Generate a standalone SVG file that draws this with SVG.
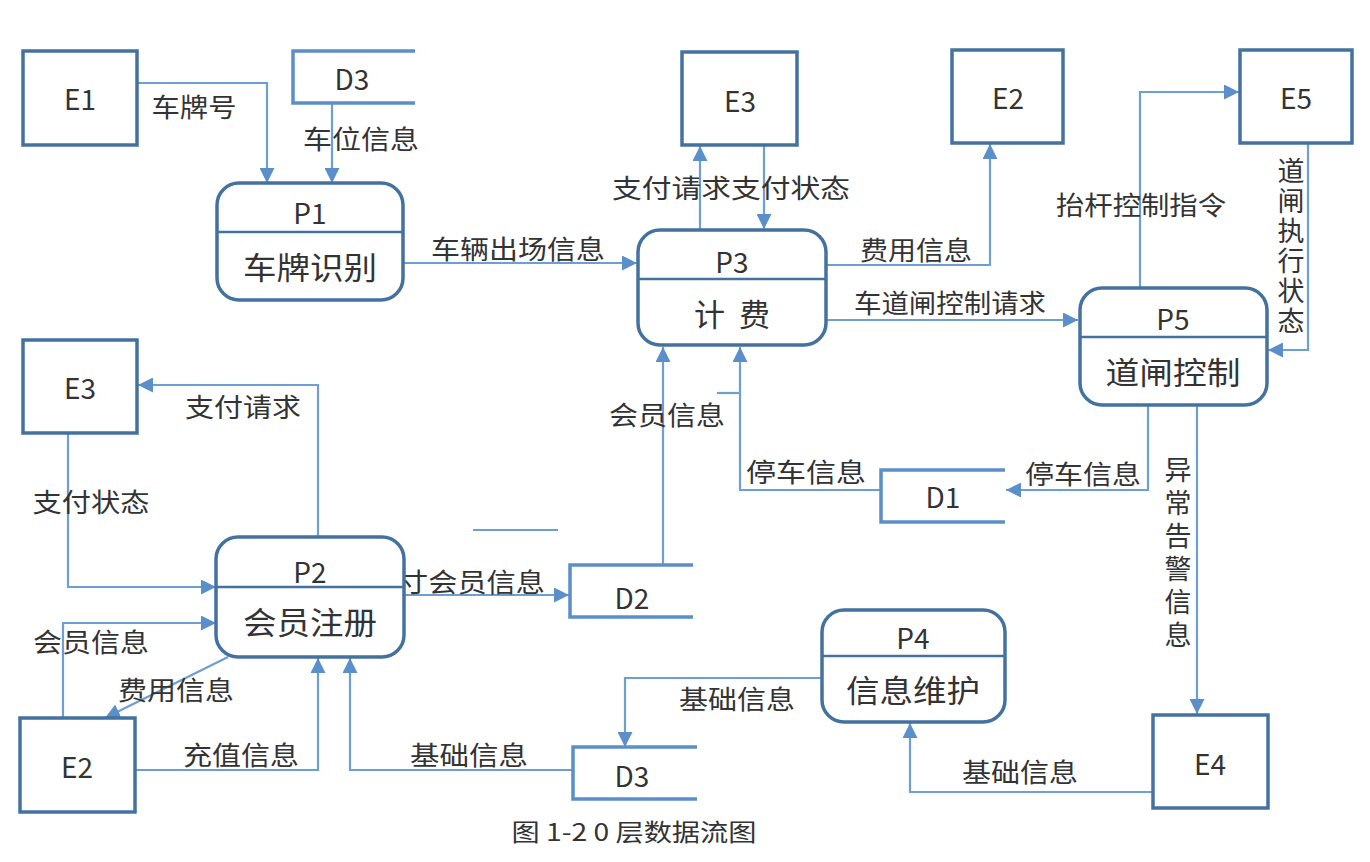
<svg xmlns="http://www.w3.org/2000/svg" width="1370" height="862" viewBox="0 0 1370 862">
<style>
.ent{fill:#fff;stroke:#44729f;stroke-width:3.5}
.proc{fill:#fff;stroke:#44729f;stroke-width:3.5}
.div{stroke:#44729f;stroke-width:2.5}
.store{fill:none;stroke:#5b8fc9;stroke-width:3.5}
.con{fill:none;stroke:#6d9fd4;stroke-width:2.2}
.t{font-family:"Noto Sans CJK SC","Liberation Sans",sans-serif;fill:#333;text-anchor:middle;dominant-baseline:central}
.nt{font-size:28px}
.pt{font-size:31px}
.lt{font-size:26px}
.vt{font-size:27px;writing-mode:vertical-rl;text-orientation:upright}
.cap{font-size:24px}
</style>
<defs>
<marker id="a" viewBox="0 0 10 10" refX="10" refY="5" markerWidth="15" markerHeight="15" markerUnits="userSpaceOnUse" orient="auto">
<path d="M0,0 L10,5 L0,10 z" fill="#5b8fc9"/>
</marker>
</defs>
<rect width="1370" height="862" fill="#fff"/>

<g id="connectors">
<path class="con" d="M137,83 H267 V183" marker-end="url(#a)"/>
<path class="con" d="M332,103 V183" marker-end="url(#a)"/>
<path class="con" d="M403,263 H637" marker-end="url(#a)"/>
<path class="con" d="M700,230 V146" marker-end="url(#a)"/>
<path class="con" d="M764,145 V229" marker-end="url(#a)"/>
<path class="con" d="M826,265 H990 V144" marker-end="url(#a)"/>
<path class="con" d="M826,320 H1078" marker-end="url(#a)"/>
<path class="con" d="M1140,288 V92 H1239" marker-end="url(#a)"/>
<path class="con" d="M1308,143 V350 H1268" marker-end="url(#a)"/>
<path class="con" d="M1148,405 V490 H1006" marker-end="url(#a)"/>
<path class="con" d="M881,490 H740 V347" marker-end="url(#a)"/>
<path class="con" d="M663,565 V347" marker-end="url(#a)"/>
<path class="con" d="M404,595 H569" marker-end="url(#a)"/>
<path class="con" d="M318,537 V385 H138" marker-end="url(#a)"/>
<path class="con" d="M68,433 V587 H216" marker-end="url(#a)"/>
<path class="con" d="M63,718 V623 H216" marker-end="url(#a)"/>
<path class="con" d="M228,657 L105,718" marker-end="url(#a)"/>
<path class="con" d="M135,770 H318 V658" marker-end="url(#a)"/>
<path class="con" d="M573,770 H350 V658" marker-end="url(#a)"/>
<path class="con" d="M822,678 H625 V747" marker-end="url(#a)"/>
<path class="con" d="M1153,792 H910 V723" marker-end="url(#a)"/>
<path class="con" d="M1197,405 V714" marker-end="url(#a)"/>
<path class="con" d="M473,530 H558"/>
<path class="con" d="M717,393 H740"/>
</g>

<g id="labels">
<text class="t lt" x="194" y="105" textLength="85" lengthAdjust="spacingAndGlyphs">车牌号</text>
<text class="t lt" x="361" y="137" textLength="116" lengthAdjust="spacingAndGlyphs">车位信息</text>
<text class="t lt" x="518" y="247" textLength="174" lengthAdjust="spacingAndGlyphs">车辆出场信息</text>
<text class="t lt" x="731" y="186" textLength="238" lengthAdjust="spacingAndGlyphs">支付请求支付状态</text>
<text class="t lt" x="916" y="248" textLength="112" lengthAdjust="spacingAndGlyphs">费用信息</text>
<text class="t lt" x="950" y="301" textLength="192" lengthAdjust="spacingAndGlyphs">车道闸控制请求</text>
<text class="t lt" x="1141" y="203" textLength="170" lengthAdjust="spacingAndGlyphs">抬杆控制指令</text>
<text class="t vt" x="1291" y="247" letter-spacing="3">道闸执行状态</text>
<text class="t lt" x="1083" y="472" textLength="116" lengthAdjust="spacingAndGlyphs">停车信息</text>
<text class="t lt" x="806" y="470" textLength="120" lengthAdjust="spacingAndGlyphs">停车信息</text>
<text class="t lt" x="667" y="413" textLength="116" lengthAdjust="spacingAndGlyphs">会员信息</text>
<text class="t vt" x="1178" y="555" letter-spacing="6">异常告警信息</text>
<text class="t lt" x="243" y="405" textLength="116" lengthAdjust="spacingAndGlyphs">支付请求</text>
<text class="t lt" x="91" y="500" textLength="117" lengthAdjust="spacingAndGlyphs">支付状态</text>
<text class="t lt" x="472" y="580" textLength="146" lengthAdjust="spacingAndGlyphs">寸会员信息</text>
<text class="t lt" x="91" y="640" textLength="116" lengthAdjust="spacingAndGlyphs">会员信息</text>
<text class="t lt" x="176" y="688" textLength="116" lengthAdjust="spacingAndGlyphs">费用信息</text>
<text class="t lt" x="241" y="753" textLength="116" lengthAdjust="spacingAndGlyphs">充值信息</text>
<text class="t lt" x="469" y="753" textLength="118" lengthAdjust="spacingAndGlyphs">基础信息</text>
<text class="t lt" x="737" y="697" textLength="116" lengthAdjust="spacingAndGlyphs">基础信息</text>
<text class="t lt" x="1020" y="770" textLength="116" lengthAdjust="spacingAndGlyphs">基础信息</text>
</g>

<g id="E1"><rect class="ent" x="23" y="51" width="114" height="94"/><text class="t nt" x="80" y="98">E1</text></g>
<g id="D3top"><path class="store" d="M415,51 H293 V103 H415"/><text class="t nt" x="352" y="78">D3</text></g>
<g id="P1"><rect class="proc" x="217" y="183" width="186" height="117" rx="22"/><line class="div" x1="217" y1="232" x2="403" y2="232"/><text class="t nt" x="310" y="212">P1</text><text class="t pt" x="310" y="265" textLength="134" lengthAdjust="spacingAndGlyphs">车牌识别</text></g>
<g id="E3top"><rect class="ent" x="682" y="52" width="115" height="93"/><text class="t nt" x="740" y="100">E3</text></g>
<g id="P3"><rect class="proc" x="638" y="230" width="188" height="115" rx="22"/><line class="div" x1="638" y1="279" x2="826" y2="279"/><text class="t nt" x="732" y="261">P3</text><text class="t pt" x="732" y="312" xml:space="preserve">计  费</text></g>
<g id="E2top"><rect class="ent" x="952" y="50" width="111" height="93"/><text class="t nt" x="1008" y="97">E2</text></g>
<g id="E5"><rect class="ent" x="1240" y="50" width="112" height="93"/><text class="t nt" x="1296" y="97">E5</text></g>
<g id="P5"><rect class="proc" x="1080" y="288" width="187" height="117" rx="22"/><line class="div" x1="1080" y1="337" x2="1267" y2="337"/><text class="t nt" x="1173" y="318">P5</text><text class="t pt" x="1173" y="370" textLength="135" lengthAdjust="spacingAndGlyphs">道闸控制</text></g>
<g id="E3left"><rect class="ent" x="23" y="340" width="114" height="93"/><text class="t nt" x="80" y="387">E3</text></g>
<g id="P2"><rect class="proc" x="216" y="537" width="188" height="120" rx="22"/><line class="div" x1="216" y1="587" x2="404" y2="587"/><text class="t nt" x="310" y="571">P2</text><text class="t pt" x="310" y="620" textLength="134" lengthAdjust="spacingAndGlyphs">会员注册</text></g>
<g id="D2"><path class="store" d="M693,565 H570 V617 H693"/><text class="t nt" x="632" y="597">D2</text></g>
<g id="D1"><path class="store" d="M1005,470 H881 V522 H1005"/><text class="t nt" x="943" y="496">D1</text></g>
<g id="P4"><rect class="proc" x="822" y="610" width="183" height="112" rx="22"/><line class="div" x1="822" y1="656" x2="1005" y2="656"/><text class="t nt" x="913" y="637">P4</text><text class="t pt" x="913" y="688" textLength="134" lengthAdjust="spacingAndGlyphs">信息维护</text></g>
<g id="E2bottom"><rect class="ent" x="20" y="718" width="115" height="94"/><text class="t nt" x="77" y="766">E2</text></g>
<g id="D3bottom"><path class="store" d="M697,747 H573 V799 H697"/><text class="t nt" x="632" y="775">D3</text></g>
<g id="E4"><rect class="ent" x="1153" y="715" width="115" height="93"/><text class="t nt" x="1210" y="763">E4</text></g>

<text class="t cap" x="634" y="830" textLength="245" lengthAdjust="spacingAndGlyphs">图 1-2 0 层数据流图</text>
</svg>
